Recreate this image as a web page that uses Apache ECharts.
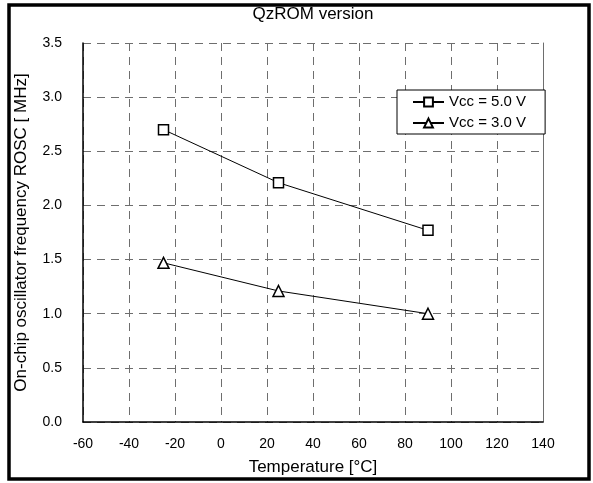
<!DOCTYPE html>
<html>
<head>
<meta charset="utf-8">
<script src="https://cdn.jsdelivr.net/npm/echarts@6/dist/echarts.min.js"></script>
<style>
html,body{margin:0;padding:0;background:#fff;}
#chart{width:593px;height:483px;}
</style>
</head>
<body>
<div id="chart"></div>
<script>
// Data
const temperatures = [-25, 25, 90];
const vcc50 = [2.70, 2.21, 1.77];
const vcc30 = [1.47, 1.21, 1.00];
const seriesNames = ['Vcc = 5.0 V', 'Vcc = 3.0 V'];
const titleText = 'QzROM version';
const xName = 'Temperature [°C]';
const yName = 'On-chip oscillator frequency ROSC [ MHz]';

const FONT = 'Liberation Sans, Arial, sans-serif';
const chart = echarts.init(document.getElementById('chart'), null, {renderer: 'canvas'});

function pairs(xs, ys) { return xs.map((x, i) => [x, ys[i]]); }

const gridLine = {show: true, lineStyle: {color: '#6e6e6e', width: 1, type: [8, 6]}};

chart.setOption({
  animation: false,
  backgroundColor: '#fff',
  grid: {left: 83, top: 43, right: 50, bottom: 61},
  graphic: [
    {type: 'rect', shape: {x: 9, y: 5, width: 580, height: 474},
     style: {fill: 'none', stroke: '#000', lineWidth: 3.5}, z: 100},
    {type: 'text', x: 313, y: 14,
     style: {text: titleText, fill: '#000', font: '17px ' + FONT, textAlign: 'center', textVerticalAlign: 'middle'}}
  ],
  legend: {
    left: 397, top: 90, orient: 'vertical',
    backgroundColor: '#fff', borderColor: '#000', borderWidth: 1,
    padding: [4, 19, 3, 15],
    itemWidth: 31, itemHeight: 11, itemGap: 5,
    textStyle: {fontSize: 15, fontFamily: FONT, color: '#000', lineHeight: 16},
    data: seriesNames
  },
  xAxis: {
    type: 'value', min: -60, max: 140, interval: 20,
    name: xName, nameLocation: 'middle', nameGap: 37,
    nameTextStyle: {fontSize: 17, fontFamily: FONT, color: '#000'},
    axisLine: {show: true, onZero: false, lineStyle: {color: '#000', width: 1.5}},
    axisTick: {show: false},
    axisLabel: {fontSize: 14, fontFamily: FONT, color: '#000', margin: 15},
    splitLine: gridLine
  },
  yAxis: [{
    type: 'value', min: 0, max: 3.5, interval: 0.5,
    name: yName, nameLocation: 'middle', nameGap: 53,
    nameTextStyle: {fontSize: 17, fontFamily: FONT, color: '#000'},
    axisLine: {show: true, onZero: false, lineStyle: {color: '#000', width: 1.5}},
    axisTick: {show: false},
    axisLabel: {fontSize: 14, fontFamily: FONT, color: '#000', margin: 21,
      formatter: v => v.toFixed(1)},
    splitLine: gridLine
  }, {
    type: 'value', min: 0, max: 3.5, interval: 0.5, position: 'right',
    axisLine: {show: true, onZero: false, lineStyle: {color: '#6e6e6e', width: 1}},
    axisTick: {show: false}, axisLabel: {show: false}, splitLine: {show: false}
  }],
  series: [{
    name: seriesNames[0], type: 'line', data: pairs(temperatures, vcc50),
    symbol: 'rect', symbolSize: 10,
    lineStyle: {color: '#000', width: 1},
    itemStyle: {color: '#fff', borderColor: '#000', borderWidth: 1.5},
    z: 5
  }, {
    name: seriesNames[1], type: 'line', data: pairs(temperatures, vcc30),
    symbol: 'triangle', symbolSize: 11,
    lineStyle: {color: '#000', width: 1},
    itemStyle: {color: '#fff', borderColor: '#000', borderWidth: 1.5},
    z: 5
  }]
});
</script>
</body>
</html>
